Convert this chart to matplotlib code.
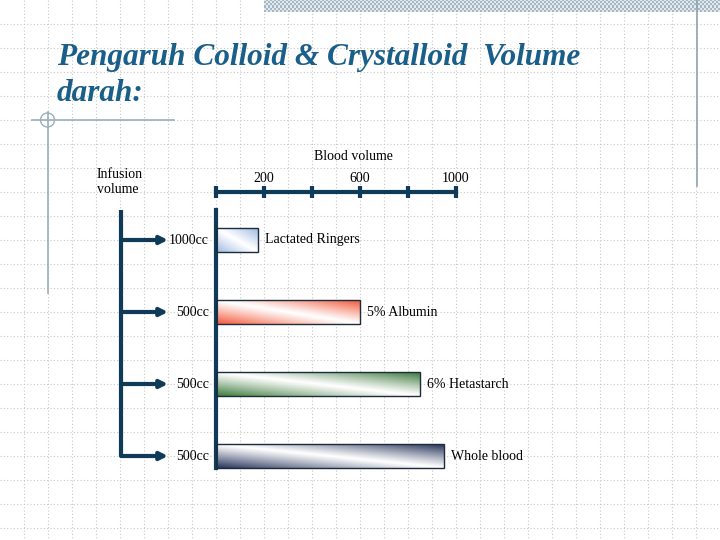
import numpy as np
import matplotlib
matplotlib.use("Agg")
import matplotlib.pyplot as plt
import matplotlib.transforms as mtransforms
from matplotlib.patches import Circle

plt.rcParams['font.family'] = ['Liberation Serif', 'DejaVu Serif']

# data
infusion = ['1000cc', '500cc', '500cc', '500cc']
fluids = ['Lactated Ringers', '5% Albumin', '6% Hetastarch', 'Whole blood']
blood_volume = [175, 600, 850, 950]
bar_colors = ['#9db8e0', '#f2583a', '#3d7a3d', '#27345a']
ticks = [0, 200, 400, 600, 800, 1000]
tick_labels = ['', '200', '', '600', '', '1000']

navy = '#0f3a58'
deco = '#9aafba'

fig = plt.figure(figsize=(7.2, 5.4), dpi=100)
fig.patch.set_facecolor('white')

# background layer in pixel units
bg = fig.add_axes([0, 0, 1, 1])
bg.set_xlim(0, 720)
bg.set_ylim(540, 0)
bg.axis('off')

for gx in range(24, 720, 24):
    bg.plot([gx, gx], [0, 540], color='#c8c8c8', lw=0.8, ls=(0, (1, 2)), zorder=0)
for gy in range(24, 540, 24):
    bg.plot([0, 720], [gy, gy], color='#c8c8c8', lw=0.8, ls=(0, (1, 2)), zorder=0)

# checkered band at the top
chk = (np.indices((6, 228)).sum(axis=0) % 2)
bg.imshow(chk, cmap=matplotlib.colors.ListedColormap(['#e2e8ec', '#a4b8c4']),
          extent=(264, 720, 12.5, 0), aspect='auto', interpolation='nearest', zorder=1)

bg.plot([696.5, 696.5], [0, 186], color='#8ea3ae', lw=1.2, zorder=1)
bg.plot([32, 174], [120, 120], color=deco, lw=1.2, zorder=1)
bg.plot([47.5, 47.5], [112, 293], color=deco, lw=1.2, zorder=1)
bg.add_patch(Circle((47.5, 120), 7, fill=False, ec=deco, lw=1, zorder=1))

bg.text(57, 65, 'Pengaruh Colloid & Crystalloid  Volume', fontsize=22.5,
        style='italic', weight='bold', color='#1a5f89', va='baseline')
bg.text(57, 101, 'darah:', fontsize=22.5, style='italic', weight='bold',
        color='#1a5f89', va='baseline')

bg.text(353, 156, 'Blood volume', fontsize=10, ha='center', va='center')
bg.text(97, 182, 'Infusion\nvolume', fontsize=10, ha='left', va='center',
        linespacing=1.15)

# data axes
ax = fig.add_axes([216 / 720, 1 - 492 / 540, 240 / 720, 288 / 540])
ax.patch.set_alpha(0)
h = 0.32
for i, (val, c) in enumerate(zip(blood_volume, bar_colors)):
    u = np.linspace(0, 1, 200)[None, :]
    v = np.linspace(1, 0, 40)[:, None]
    t = np.abs(u + v - 1) ** 1.1
    rgb = np.array(matplotlib.colors.to_rgb(c))
    img = (1 - t)[..., None] * np.ones(3) + t[..., None] * rgb
    ax.imshow(img, extent=(0, val, i + h / 2, i - h / 2), aspect='auto',
              interpolation='bilinear', zorder=2)
ax.barh(range(len(blood_volume)), blood_volume, height=h, facecolor='none',
        edgecolor='#1c2c3c', lw=1, zorder=3)

ax.set_xlim(0, 1000)
ax.set_ylim(3.5, -0.5)
ax.set_yticks([])
ax.xaxis.tick_top()
ax.set_xticks(ticks)
ax.set_xticklabels(tick_labels, fontsize=10)
ax.tick_params(axis='x', direction='inout', length=8.6, width=3, color=navy, pad=1)
for s in ['right', 'bottom']:
    ax.spines[s].set_visible(False)
ax.spines['top'].set_position(('outward', 8.64))
ax.spines['top'].set_linewidth(3)
ax.spines['top'].set_color(navy)
ax.spines['left'].set_linewidth(3)
ax.spines['left'].set_color(navy)
ax.spines['left'].set_bounds(3.17, -0.42)

trans = mtransforms.blended_transform_factory(bg.transData, ax.transData)
ax.plot([121, 121], [-0.42, len(infusion) - 1], color=navy, lw=3,
        transform=trans, clip_on=False, solid_capstyle='butt')
for i, lab in enumerate(infusion):
    ax.annotate('', xy=(168, i), xytext=(121, i), xycoords=trans,
                textcoords=trans, annotation_clip=False,
                arrowprops=dict(arrowstyle='-|>', lw=3, color=navy,
                                mutation_scale=11, shrinkA=0, shrinkB=0))
    ax.annotate(lab, xy=(0, i), xytext=(-7, 0), textcoords='offset pixels',
                ha='right', va='center', fontsize=10, annotation_clip=False)
    ax.annotate(fluids[i], xy=(blood_volume[i], i), xytext=(7, 0),
                textcoords='offset pixels', ha='left', va='center',
                fontsize=10, annotation_clip=False)

fig.savefig('out.png', dpi=100)
